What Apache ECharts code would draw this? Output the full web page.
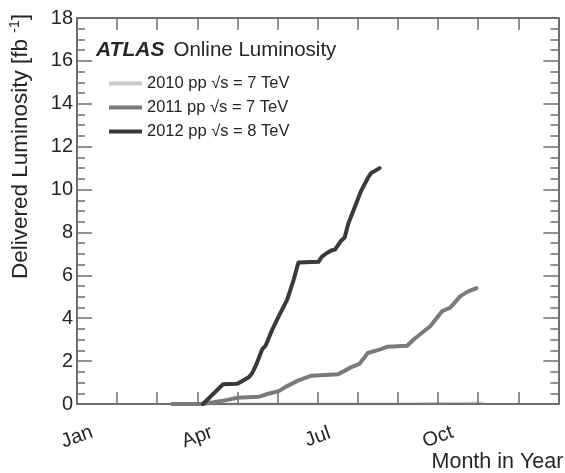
<!DOCTYPE html>
<html>
<head>
<meta charset="utf-8">
<script src="https://cdn.jsdelivr.net/npm/echarts@6/dist/echarts.min.js"></script>
<style>
  html, body { margin: 0; padding: 0; background: #fff; }
  #chart { width: 565px; height: 473px; }
</style>
</head>
<body>
<div id="chart"></div>
<script>
// Month-of-year tick labels (x measured in months from 1 January)
const monthLabels = ['Jan', '', '', 'Apr', '', '', 'Jul', '', '', 'Oct', '', '', ''];

// Cumulative delivered luminosity [fb^-1] versus month in year
const months2010 = [2.97, 5.0, 6.0, 7.0, 8.0, 8.5, 9.0, 9.5, 10.1];
const lumi2010   = [0, 0.0005, 0.001, 0.003, 0.004, 0.01, 0.02, 0.035, 0.048];

const months2011 = [2.37, 3.1, 3.4, 3.72, 4.0, 4.54, 4.79, 5.03, 5.2, 5.52, 5.85, 6.51, 6.84, 7.04, 7.25, 7.58, 7.74, 8.23, 8.4, 8.81, 9.1, 9.3, 9.55, 9.75, 9.96];
const lumi2011   = [0, 0, 0.08, 0.18, 0.29, 0.34, 0.49, 0.6, 0.8, 1.1, 1.32, 1.39, 1.72, 1.87, 2.38, 2.56, 2.67, 2.72, 3.02, 3.64, 4.33, 4.48, 5.02, 5.25, 5.4];

const months2012 = [3.14, 3.64, 4.0, 4.1, 4.29, 4.37, 4.46, 4.62, 4.7, 4.87, 5.03, 5.24, 5.4, 5.52, 6.02, 6.1, 6.22, 6.35, 6.43, 6.59, 6.67, 6.76, 6.92, 7.08, 7.25, 7.33, 7.41, 7.54];
const lumi2012   = [0, 0.92, 0.95, 1.05, 1.26, 1.45, 1.8, 2.56, 2.72, 3.48, 4.1, 4.87, 5.79, 6.6, 6.63, 6.86, 7.03, 7.17, 7.2, 7.63, 7.75, 8.39, 9.16, 9.93, 10.54, 10.77, 10.85, 11.0];

const seriesNames = ['2010 pp \u221As = 7 TeV', '2011 pp \u221As = 7 TeV', '2012 pp \u221As = 8 TeV'];
const seriesColors = ['#c9c9c9', '#7a7a7a', '#3a3a3a'];

const pairs = (xs, ys) => xs.map((x, i) => [x, ys[i]]);

const FONT = 'Liberation Sans, Arial, Helvetica, sans-serif';
const AXIS_COLOR = '#6f6f6f';
const TEXT_COLOR = '#262626';

// Frame axes: ticks point into the plot on all four sides
function xAxisDef(position, extra) {
  return Object.assign({
    type: 'value', min: 0, max: 12, interval: 1, position: position,
    axisLine: { show: true, onZero: false, lineStyle: { color: AXIS_COLOR, width: 2 } },
    axisTick: { show: true, inside: true, length: 12, lineStyle: { color: AXIS_COLOR, width: 1.5 } },
    axisLabel: { show: false },
    splitLine: { show: false }
  }, extra || {});
}
function yAxisDef(position, extra) {
  return Object.assign({
    type: 'value', min: 0, max: 18, interval: 2, position: position,
    axisLine: { show: true, onZero: false, lineStyle: { color: AXIS_COLOR, width: 2 } },
    axisTick: { show: true, inside: true, length: 15, lineStyle: { color: AXIS_COLOR, width: 1.5 } },
    minorTick: { show: true, splitNumber: 4, length: 8, lineStyle: { color: AXIS_COLOR, width: 1.5 } },
    axisLabel: { show: false },
    splitLine: { show: false },
    minorSplitLine: { show: false }
  }, extra || {});
}

const chart = echarts.init(document.getElementById('chart'), null, { renderer: 'canvas' });

chart.setOption({
  animation: false,
  backgroundColor: '#ffffff',
  textStyle: { fontFamily: FONT },
  grid: { left: 76, right: 2, top: 18, bottom: 64, containLabel: false },
  title: {
    left: 96, top: 40, padding: 0,
    text: '{a|ATLAS}{b|Online Luminosity}',
    textStyle: {
      fontWeight: 'normal',
      rich: {
        a: { fontFamily: FONT, fontSize: 21, fontWeight: 'bold', fontStyle: 'italic', color: TEXT_COLOR, padding: [0, 9, 0, 0] },
        b: { fontFamily: FONT, fontSize: 20.5, fontWeight: 'normal', color: TEXT_COLOR }
      }
    }
  },
  legend: {
    orient: 'vertical', left: 109, top: 75, padding: 0,
    itemWidth: 33, itemHeight: 4, itemGap: 7, icon: 'rect',
    selectedMode: false,
    textStyle: { fontFamily: FONT, fontSize: 16.5, lineHeight: 16, color: TEXT_COLOR },
    data: seriesNames
  },
  xAxis: [
    xAxisDef('bottom', {
      name: 'Month in Year', nameLocation: 'end', nameGap: -4,
      nameTextStyle: { fontFamily: FONT, fontSize: 21.5, color: TEXT_COLOR, align: 'right', verticalAlign: 'top', padding: [47, 0, 0, 0] },
      axisLabel: {
        show: true, rotate: 20, align: 'center', verticalAlign: 'middle', margin: 33,
        fontFamily: FONT, fontSize: 20, color: TEXT_COLOR,
        formatter: v => monthLabels[Math.round(v)] || ''
      }
    }),
    xAxisDef('top')
  ],
  yAxis: [
    yAxisDef('left', {
      name: '{n|Delivered Luminosity [fb }{s|-1}{n|]}',
      nameLocation: 'middle', nameGap: 44, nameRotate: 90,
      nameTextStyle: {
        padding: [0, 0, 0, 129],
        rich: {
          n: { fontFamily: FONT, fontSize: 22.5, color: TEXT_COLOR },
          s: { fontFamily: FONT, fontSize: 14, color: TEXT_COLOR, padding: [0, 0, 11, 0] }
        }
      },
      axisLabel: { show: true, margin: 4, fontFamily: FONT, fontSize: 20, color: TEXT_COLOR }
    }),
    yAxisDef('right')
  ],
  series: [
    { name: seriesNames[0], data: pairs(months2010, lumi2010), color: seriesColors[0], z: -1, width: 3 },
    { name: seriesNames[1], data: pairs(months2011, lumi2011), color: seriesColors[1], z: 2, width: 4 },
    { name: seriesNames[2], data: pairs(months2012, lumi2012), color: seriesColors[2], z: 3, width: 4 }
  ].map(s => ({
    type: 'line', name: s.name, data: s.data, z: s.z,
    xAxisIndex: 0, yAxisIndex: 0,
    showSymbol: false, symbol: 'none', smooth: false,
    lineStyle: { width: s.width, color: s.color, join: 'round', cap: 'round' },
    itemStyle: { color: s.color }
  }))
});
</script>
</body>
</html>
